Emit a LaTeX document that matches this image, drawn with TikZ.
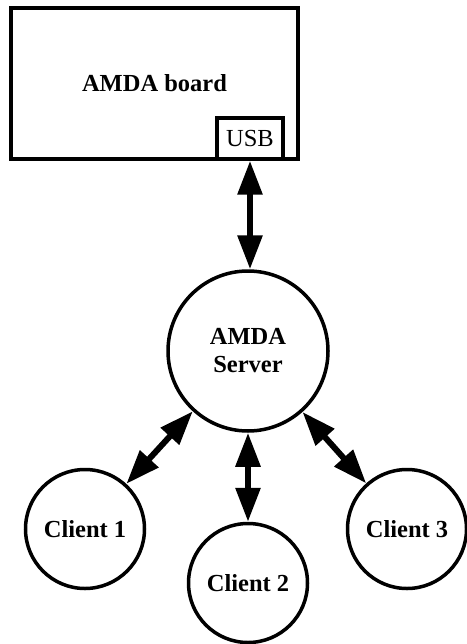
\documentclass[tikz,border=0pt]{standalone}
\usepackage{fontspec}
\setmainfont{Liberation Serif}
\usetikzlibrary{arrows.meta}
\begin{document}
\begin{tikzpicture}[x=1pt,y=-1pt,
  every node/.style={font=\fontsize{24.5}{28}\selectfont},
  boxshape/.style={draw,line width=3.5pt,inner sep=0pt},
  roundnode/.style={draw,circle,line width=3.5pt,inner sep=0pt,align=center,font=\fontsize{24.5}{28}\selectfont\bfseries},
  link/.style={line width=6pt,{Triangle[length=34pt,width=24pt]}-{Triangle[length=34pt,width=24pt]}}]
\useasboundingbox (0,0) rectangle (466,644);
% board with its USB port
\node[boxshape,minimum width=287pt,minimum height=151pt] (board) at (154.5,83.5) {};
\node[font=\fontsize{24.5}{28}\selectfont\bfseries] (boardlabel) at (154.5,83.5) {AMDA board};
\node[boxshape,minimum width=66pt,minimum height=41pt] (usb) at (250,138.5) {USB};
% server and clients
\node[roundnode,minimum size=160pt] (server) at (248,351) {AMDA\\Server};
\node[roundnode,minimum size=119pt] (c1) at (85,529) {Client 1};
\node[roundnode,minimum size=119pt] (c2) at (248,583) {Client 2};
\node[roundnode,minimum size=119pt] (c3) at (407,529) {Client 3};
% links
\draw[link] (usb.south) -- (usb.south |- server.north);
\draw[link] (server) -- (c1);
\draw[link] (server) -- (c2);
\draw[link] (server) -- (c3);
\end{tikzpicture}
\end{document}
